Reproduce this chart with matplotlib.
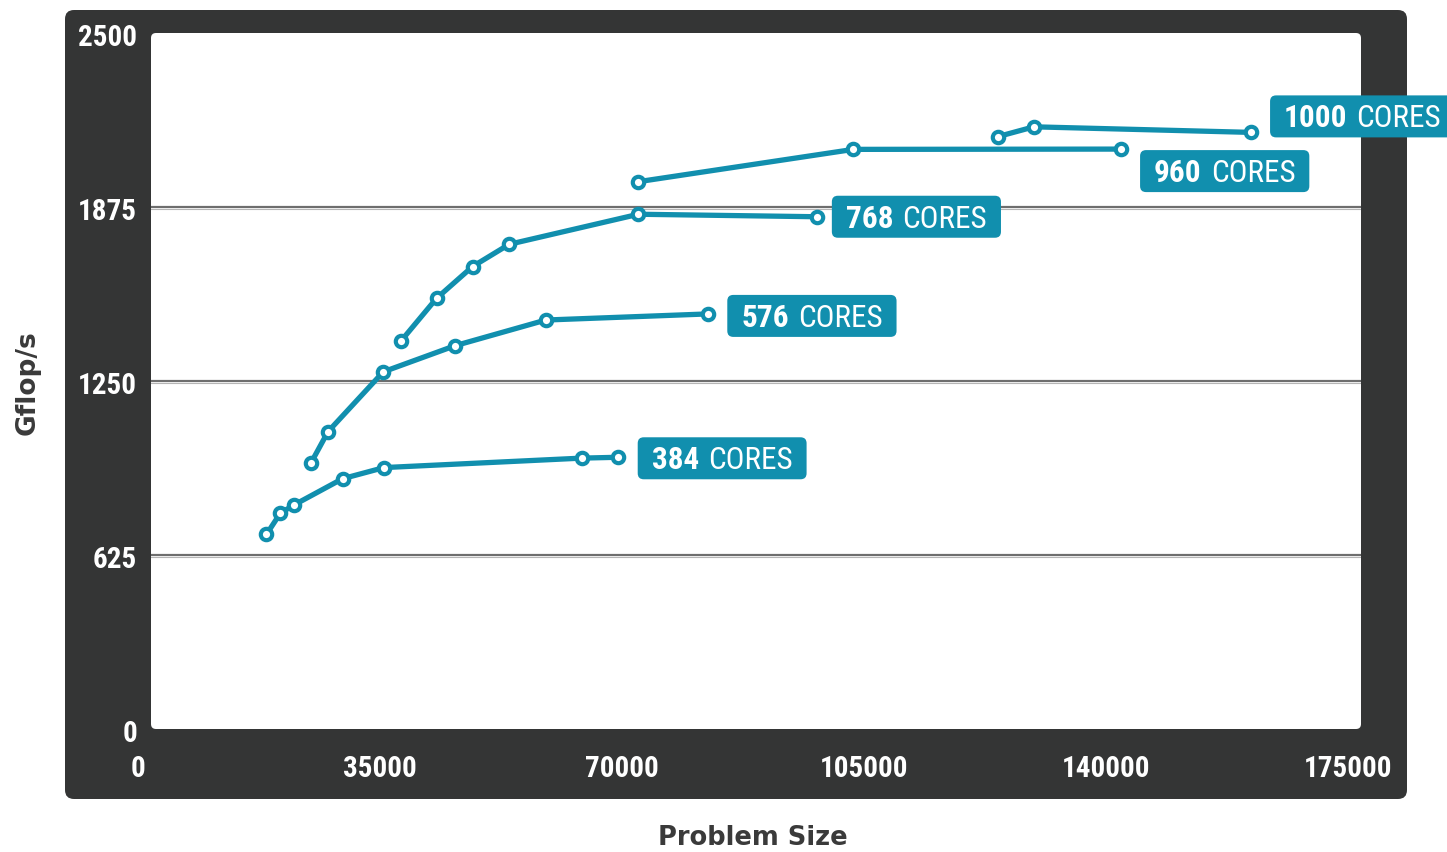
import matplotlib
matplotlib.use("Agg")
import matplotlib.pyplot as plt
import matplotlib.transforms as mtransforms
from matplotlib.patches import FancyBboxPatch
from matplotlib import font_manager as fm

# ---- data -------------------------------------------------------------
x_384 = [16700, 18700, 20700, 27700, 33700, 62300, 67500]
y_384 = [699, 775, 805, 899, 939, 973, 976]

x_576 = [23100, 25600, 33600, 44000, 57100, 80600]
y_576 = [954, 1068, 1283, 1377, 1469, 1491]

x_768 = [36200, 41300, 46500, 51800, 70500, 96300]
y_768 = [1395, 1547, 1661, 1741, 1849, 1840]

x_960 = [70500, 101600, 140300]
y_960 = [1966, 2082, 2083]

x_1000 = [122500, 127700, 159100]
y_1000 = [2128, 2163, 2143]

series_names = ["384", "576", "768", "960", "1000"]
unit_label = "CORES"

x_ticks = [0, 35000, 70000, 105000, 140000, 175000]
y_ticks = [0, 625, 1250, 1875, 2500]
x_title = "Problem Size"
y_title = "Gflop/s"

# ---- style ------------------------------------------------------------
TEAL = "#118fae"
FRAME = "#343535"
W, H, DPI = 1447, 852, 100

names = {f.name for f in fm.fontManager.ttflist}
cond_family = None
cond_stretch = "normal"
for cand in ["Roboto Condensed", "Liberation Sans Narrow"]:
    if cand in names:
        cond_family = cand
        break
if cond_family is None:
    if any(f.name == "DejaVu Sans" and str(f.stretch) in ("condensed", "semi-condensed")
           for f in fm.fontManager.ttflist):
        cond_family, cond_stretch = "DejaVu Sans", "condensed"
    else:
        cond_family = "Roboto" if "Roboto" in names else "DejaVu Sans"
is_condensed = cond_family != "Roboto"
num_size = 21 if is_condensed else 19
tag_size = 22.5 if is_condensed else 19.5

fig = plt.figure(figsize=(W / DPI, H / DPI), dpi=DPI)
fig.patch.set_facecolor("white")
ident = mtransforms.IdentityTransform()

def px_rect(x0, top, x1, bottom, color, radius, z):
    # rectangle given in image pixel coordinates (origin top-left)
    p = FancyBboxPatch((x0, H - bottom), x1 - x0, bottom - top,
                       boxstyle=f"round,pad=0,rounding_size={radius}",
                       transform=ident, facecolor=color, edgecolor="none",
                       zorder=z)
    fig.add_artist(p)
    return p

# dark frame and white plotting panel
px_rect(65, 10, 1407, 799, FRAME, 9, -10)
px_rect(151, 33, 1361, 729, "white", 5, -9)

ax = fig.add_axes([151 / W, (H - 729) / H, 1210 / W, 696 / H])
ax.set_facecolor("none")
ax.set_xlim(x_ticks[0], x_ticks[-1])
ax.set_ylim(y_ticks[0], y_ticks[-1])
for s in ax.spines.values():
    s.set_visible(False)

ax.set_xticks(x_ticks)
ax.set_yticks(y_ticks)
ax.set_xticklabels([str(v) for v in x_ticks])
ax.set_yticklabels([str(v) for v in y_ticks])
ax.tick_params(length=0, colors="white")
ax.tick_params(axis="y", pad=10)
ax.tick_params(axis="x", pad=19)
for lab in ax.get_xticklabels() + ax.get_yticklabels():
    lab.set_fontfamily(cond_family)
    lab.set_fontstretch(cond_stretch)
    lab.set_fontweight("bold")
    lab.set_fontsize(num_size)
    lab.set_color("white")
for lab in ax.get_xticklabels():
    lab.set_transform(lab.get_transform() +
                      mtransforms.ScaledTranslation(-13 / DPI, 0, fig.dpi_scale_trans))
for lab in ax.get_yticklabels():
    lab.set_transform(lab.get_transform() +
                      mtransforms.ScaledTranslation(0, -2.5 / DPI, fig.dpi_scale_trans))

# horizontal gridlines at inner ticks, with a faint shadow underneath
ytrans = ax.get_yaxis_transform()
shadow = ytrans + mtransforms.ScaledTranslation(0, -1.6 / DPI, fig.dpi_scale_trans)
for v in y_ticks[1:-1]:
    ax.plot([0, 1], [v, v], color="#b5b5b5", lw=0.8, zorder=1, transform=shadow)
    ax.plot([0, 1], [v, v], color="#6e6e6e", lw=1.6, zorder=1, transform=ytrans)

# axis titles
fig.text(28 / W, 1 - 383 / H, y_title, rotation=90, ha="center", va="center",
         fontsize=19, fontweight="bold", color="#3a3a3a", family="DejaVu Sans")
fig.text(753 / W, 1 - 838 / H, x_title, ha="center", va="center",
         fontsize=18.5, fontweight="bold", color="#3a3a3a", family="DejaVu Sans")

# series
all_series = [(x_384, y_384), (x_576, y_576), (x_768, y_768),
              (x_960, y_960), (x_1000, y_1000)]
for xs, ys in all_series:
    ax.plot(xs, ys, color=TEAL, lw=3.8, marker="o", ms=8.2, mfc="white",
            mec=TEAL, mew=3.0, zorder=4, solid_capstyle="round", clip_on=False)

# end labels: (dx, dy) pixel offset of the box centre-left from the last point
label_offsets = [(20, -1), (19, -2), (15, 0), (19, -22), (19, 16)]
pad_x, box_h = 14, 42
texts = []
for name, (xs, ys), (dx, dy) in zip(series_names, all_series, label_offsets):
    t1 = ax.annotate(name, xy=(xs[-1], ys[-1]), xytext=(dx + pad_x, dy - 11),
                     textcoords="offset pixels", ha="left", va="baseline",
                     fontsize=tag_size, fontweight="bold", color="white",
                     family=cond_family, fontstretch=cond_stretch, zorder=7,
                     annotation_clip=False)
    texts.append((t1, xs[-1], ys[-1], dx, dy))

fig.canvas.draw()
renderer = fig.canvas.get_renderer()
for t1, xl, yl, dx, dy in texts:
    bb1 = t1.get_window_extent(renderer)
    px, py = ax.transData.transform((xl, yl))
    gap = 9
    t2 = ax.annotate(unit_label, xy=(xl, yl),
                     xytext=(bb1.x1 - px + gap, dy - 11),
                     textcoords="offset pixels", ha="left", va="baseline",
                     fontsize=tag_size, fontweight="normal", color="white",
                     family=cond_family, fontstretch=cond_stretch, zorder=7,
                     annotation_clip=False)
    bb2 = t2.get_window_extent(renderer)
    x0 = px + dx
    x1 = bb2.x1 + pad_x
    yc = py + dy
    box = FancyBboxPatch((x0, yc - box_h / 2), x1 - x0, box_h,
                         boxstyle="round,pad=0,rounding_size=6",
                         transform=ident, facecolor=TEAL, edgecolor="none",
                         zorder=6, clip_on=False)
    ax.add_artist(box)

fig.savefig("out.png", dpi=DPI, facecolor="white")
